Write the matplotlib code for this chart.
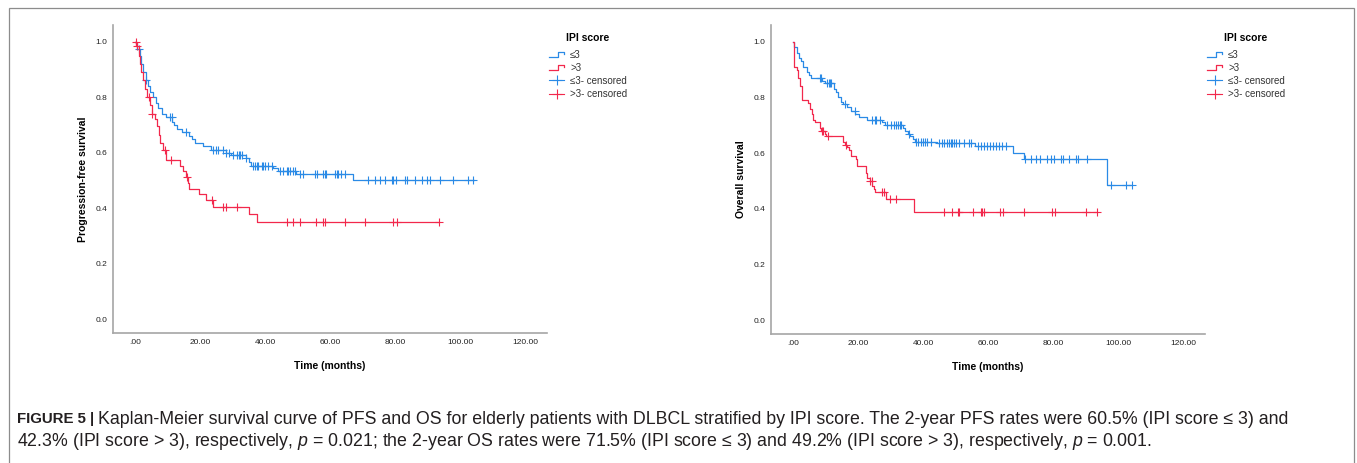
import numpy as np
import matplotlib
matplotlib.use("Agg")
import matplotlib.pyplot as plt
from matplotlib.lines import Line2D
from matplotlib.patches import Rectangle
from matplotlib.legend_handler import HandlerBase

plt.rcParams['font.family'] = ['Liberation Sans', 'DejaVu Sans']
plt.rcParams['mathtext.fontset'] = 'custom'
plt.rcParams['mathtext.it'] = 'Liberation Sans:italic'
plt.rcParams['mathtext.rm'] = 'Liberation Sans'

BLUE = '#2a8ae6'
RED = '#f2284c'

# ---- PFS, IPI <= 3 ----
pfs_lo_t = [0, 0.8, 1.5, 2, 2.5, 3.3, 4, 4.8, 5.6, 6.5, 7.2, 8.2, 9.5, 11.5, 12, 13, 14.5,
            16.5, 17.5, 18.5, 21, 23.5, 28, 29.5, 34, 35, 35.8, 42.5, 44, 49.6, 67]
pfs_lo_s = [1.0, 0.975, 0.95, 0.92, 0.89, 0.86, 0.84, 0.82, 0.80, 0.78, 0.76, 0.74, 0.73, 0.71,
            0.70, 0.685, 0.675, 0.66, 0.65, 0.635, 0.625, 0.61, 0.60, 0.59, 0.58, 0.565, 0.553,
            0.545, 0.535, 0.523, 0.50]
pfs_lo_cens = [1.2, 3.5, 10.8, 11.3, 15.6, 24.0, 25.0, 25.6, 27.1, 28.1, 28.8, 30.0, 31.5, 32.0,
               32.3, 32.8, 34.2, 36.3, 36.8, 37.5, 37.9, 38.9, 39.4, 39.9, 40.9, 42.0, 44.5, 45.5,
               46.6, 47.1, 47.6, 48.6, 49.1, 50.7, 51.5, 55.3, 55.8, 57.8, 58.3, 58.8, 61.4, 61.9,
               62.4, 63.3, 64.5, 71.6, 73.7, 75.2, 76.8, 78.8, 79.3, 80.3, 82.9, 83.5, 85.9, 88.0,
               89.8, 90.5, 93.6, 97.7, 102.3, 103.9]
pfs_lo_end = 104

# ---- PFS, IPI > 3 ----
pfs_hi_t = [0, 0.5, 1.2, 1.6, 2, 2.5, 3, 3.8, 4.8, 5.3, 6.2, 6.8, 7.3, 7.8, 8.5, 9.6, 14, 14.8,
            15.8, 16.3, 16.7, 19.8, 21.7, 24.0, 35, 37.4]
pfs_hi_s = [1.0, 0.985, 0.95, 0.92, 0.89, 0.86, 0.83, 0.80, 0.77, 0.74, 0.72, 0.695, 0.665, 0.635,
            0.61, 0.573, 0.553, 0.535, 0.513, 0.49, 0.469, 0.45, 0.43, 0.405, 0.379, 0.351]
pfs_hi_cens = [0.3, 0.6, 4.2, 5.4, 9.2, 11.0, 15.9, 23.7, 27.1, 27.9, 31.4, 46.6, 48.6, 50.7,
               55.6, 57.6, 58.3, 64.5, 70.6, 79.3, 80.6, 93.3]
pfs_hi_end = 93.3

# ---- OS, IPI <= 3 ----
os_lo_t = [0, 0.5, 1.2, 1.8, 2.4, 3, 4.2, 4.9, 5.5, 8.8, 9.9, 12.5, 13.2, 14, 14.8, 15.5, 16.5,
           17.8, 19.2, 20.2, 22.7, 27.3, 28.2, 33.8, 34.5, 35.2, 36, 36.8, 37.6, 44.2, 55.9, 67.5,
           71, 96.5]
os_lo_s = [1.0, 0.98, 0.96, 0.94, 0.93, 0.91, 0.89, 0.88, 0.87, 0.86, 0.85, 0.83, 0.82, 0.80,
           0.785, 0.775, 0.765, 0.75, 0.74, 0.73, 0.72, 0.71, 0.70, 0.69, 0.68, 0.67, 0.66, 0.65,
           0.64, 0.635, 0.624, 0.60, 0.58, 0.484]
os_lo_cens = [8.4, 8.7, 10.5, 11.0, 11.3, 11.8, 16.0, 19.1, 24.2, 25.2, 25.6, 26.6, 29.0, 30.0,
              31.0, 31.8, 32.2, 32.8, 33.3, 35.8, 37.8, 38.5, 39.3, 40.0, 40.6, 41.2, 42.5, 44.8,
              45.8, 46.5, 47.3, 48.0, 48.6, 49.0, 49.4, 50.2, 51.0, 52.5, 54.0, 54.8, 56.9, 57.8,
              58.8, 59.5, 60.5, 61.5, 62.5, 63.3, 64.3, 65.5, 71.3, 73.0, 74.6, 76.0, 78.0, 79.3,
              80.3, 82.2, 82.8, 84.8, 87.0, 87.5, 90.2, 97.5, 102.2, 104.0]
os_lo_end = 104

# ---- OS, IPI > 3 ----
os_hi_t = [0, 0.2, 0.4, 1.2, 1.6, 2.2, 2.7, 2.9, 4.5, 5.2, 5.9, 6.3, 6.8, 8.2, 8.6, 9.8, 10.3,
           15.5, 16.0, 16.6, 17.3, 17.8, 19.3, 19.6, 22.4, 22.9, 23.6, 24.3, 24.8, 25.3, 28.5, 37.3]
os_hi_s = [1.0, 0.95, 0.91, 0.90, 0.87, 0.84, 0.81, 0.79, 0.78, 0.76, 0.74, 0.72, 0.71, 0.69,
           0.68, 0.67, 0.66, 0.64, 0.63, 0.62, 0.61, 0.59, 0.58, 0.552, 0.53, 0.51, 0.50, 0.48,
           0.47, 0.459, 0.436, 0.388]
os_hi_cens = [9.0, 9.4, 10.9, 16.2, 23.8, 24.2, 27.4, 28.1, 29.8, 31.6, 46.5, 48.8, 50.8, 51.1,
              55.4, 57.8, 58.1, 58.6, 63.7, 64.6, 70.8, 79.4, 80.5, 89.9, 93.3]
os_hi_end = 93.3

x_ticks = [0, 20, 40, 60, 80, 100, 120]
x_tick_labels = ['.00', '20.00', '40.00', '60.00', '80.00', '100.00', '120.00']
y_ticks = [0.0, 0.2, 0.4, 0.6, 0.8, 1.0]
legend_labels = ['≤3', '>3', '≤3- censored', '>3- censored']


def km(ax, t, s, cens, end, color):
    t = np.asarray(t)
    s = np.asarray(s)
    ax.step(np.append(t, end), np.append(s, s[-1]), where='post', color=color, lw=0.9)
    idx = np.searchsorted(t, cens, side='right') - 1
    ax.plot(cens, s[idx], '+', color=color, ms=5.5, mew=0.8, ls='none')


class StepHandler(HandlerBase):
    def create_artists(self, legend, orig_handle, xdescent, ydescent, width, height, fontsize, trans):
        lo = height * 0.1 - ydescent
        hi = height * 0.85 - ydescent
        xs = [-xdescent, -xdescent + width * 0.6, -xdescent + width * 0.6,
              -xdescent + width * 0.95, -xdescent + width * 0.95]
        ys = [lo, lo, hi, hi, hi - height * 0.3]
        ln = Line2D(xs, ys, color=orig_handle.get_color(), lw=0.9, transform=trans)
        return [ln]


def style(ax, ylabel):
    for side in ['top', 'right']:
        ax.spines[side].set_visible(False)
    for side in ['left', 'bottom']:
        ax.spines[side].set_color('#a6a6a6')
        ax.spines[side].set_linewidth(1.2)
    ax.set_xlim(-6.8, 126.5)
    ax.set_ylim(-0.05, 1.06)
    ax.set_xticks(x_ticks)
    ax.set_xticklabels(x_tick_labels)
    ax.set_yticks(y_ticks)
    ax.set_yticklabels(['%.1f' % v for v in y_ticks])
    ax.tick_params(length=0, labelsize=6, colors='#222222', pad=4)
    ax.set_xlabel('Time (months)', fontsize=7.5, fontweight='bold', labelpad=11)
    ax.set_ylabel(ylabel, fontsize=7.5, fontweight='bold', labelpad=5.5)
    step_lo = Line2D([], [], color=BLUE)
    step_hi = Line2D([], [], color=RED)
    cens_lo = Line2D([], [], color=BLUE, marker='+', ms=7, mew=0.8, lw=0.8)
    cens_hi = Line2D([], [], color=RED, marker='+', ms=7, mew=0.8, lw=0.8)
    leg = ax.legend([step_lo, step_hi, cens_lo, cens_hi], legend_labels,
                    handler_map={step_lo: StepHandler(), step_hi: StepHandler()},
                    title='IPI score', loc='upper left', bbox_to_anchor=(1.004, 0.975),
                    frameon=False, fontsize=7, borderpad=0, borderaxespad=0,
                    handlelength=1.6, handletextpad=0.6, labelspacing=0.32, numpoints=1)
    leg.get_title().set_fontweight('bold')
    leg.get_title().set_fontsize(7.5)
    leg._legend_box.sep = 5.0
    for txt in leg.get_texts():
        txt.set_color('#333333')


W, H = 1357, 463
fig = plt.figure(figsize=(W / 100, H / 100), dpi=100)

ax1 = fig.add_axes([112.7 / W, 1 - 333 / H, 434.3 / W, 308 / H])
km(ax1, pfs_lo_t, pfs_lo_s, pfs_lo_cens, pfs_lo_end, BLUE)
km(ax1, pfs_hi_t, pfs_hi_s, pfs_hi_cens, pfs_hi_end, RED)
style(ax1, 'Progression-free survival')

ax2 = fig.add_axes([770.7 / W, 1 - 334 / H, 434.3 / W, 309 / H])
km(ax2, os_lo_t, os_lo_s, os_lo_cens, os_lo_end, BLUE)
km(ax2, os_hi_t, os_hi_s, os_hi_cens, os_hi_end, RED)
style(ax2, 'Overall survival')

# outer frame
fig.patches.append(Rectangle((9 / W, -0.05), 1345 / W, 1.05 - 8 / H, transform=fig.transFigure,
                             fill=False, edgecolor='#8c8c8c', lw=0.9))

# caption
renderer = fig.canvas.get_renderer()


def rich_line(x_px, y_px, parts):
    x = x_px
    for txt, weight, size in parts:
        t = fig.text(x / W, 1 - y_px / H, txt, fontsize=size, fontweight=weight,
                     va='center', ha='left', color='#231f20')
        bb = t.get_window_extent(renderer)
        x = bb.x1


rich_line(17, 419, [('FIGURE 5 | ', 'bold', 10.8),
                    ('Kaplan-Meier survival curve of PFS and OS for elderly patients with DLBCL '
                     'stratified by IPI score. The 2-year PFS rates were 60.5% (IPI score ≤ 3) and',
                     'normal', 12.8)])
rich_line(17, 441, [('42.3% (IPI score > 3), respectively, $p$ = 0.021; the 2-year OS rates were '
                     '71.5% (IPI score ≤ 3) and 49.2% (IPI score > 3), respectively, $p$ = 0.001.',
                     'normal', 12.75)])

fig.savefig('out.png', dpi=100)
